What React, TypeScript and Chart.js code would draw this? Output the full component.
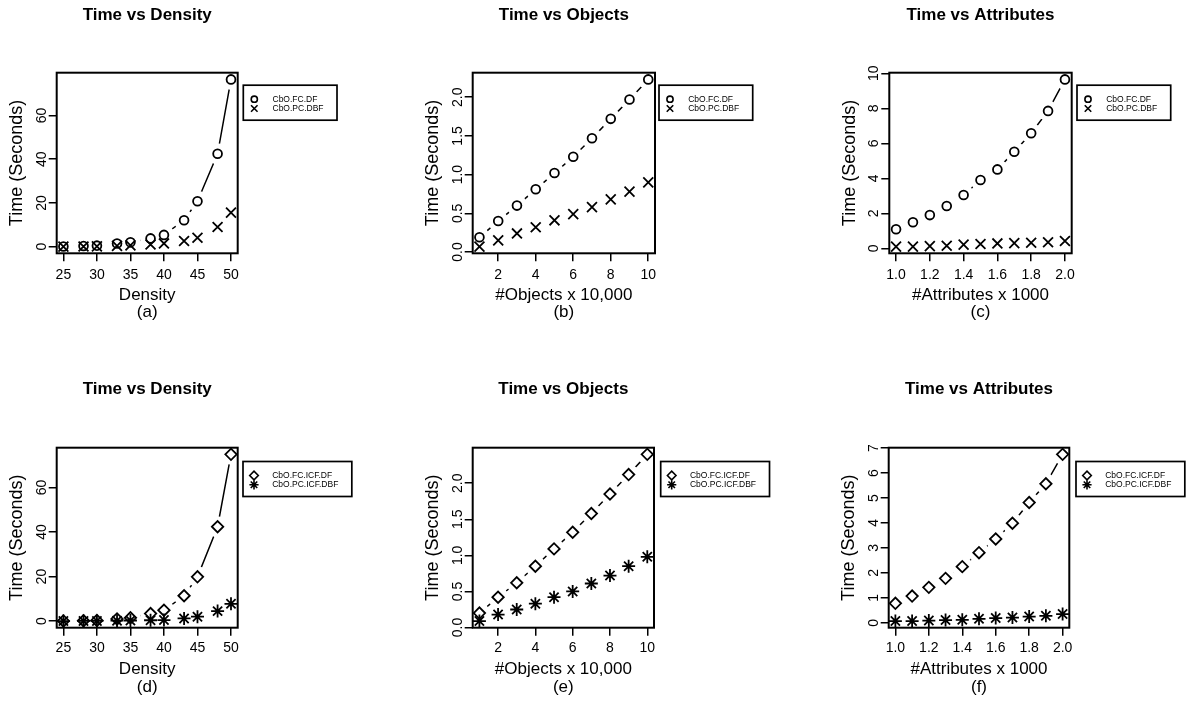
import React, { useEffect, useRef } from 'react';
import { Chart, registerables } from 'chart.js';
import { drawPoint } from 'chart.js/helpers';

Chart.register(...registerables);

const FONT = "'Liberation Sans', Arial, Helvetica, sans-serif";

// ---------- data ----------
const densityX = [25, 28, 30, 33, 35, 38, 40, 43, 45, 48, 50];
const objectsX = [1, 2, 3, 4, 5, 6, 7, 8, 9, 10];
const attributesX = [1.0, 1.1, 1.2, 1.3, 1.4, 1.5, 1.6, 1.7, 1.8, 1.9, 2.0];

const densityXTicks = [25, 30, 35, 40, 45, 50];
const objectsXTicks = [2, 4, 6, 8, 10];
const attributesXTicks = [1.0, 1.2, 1.4, 1.6, 1.8, 2.0];

const densityYTicks = [0, 20, 40, 60];
const objectsYTicks = [0, 0.5, 1.0, 1.5, 2.0];
const attributesYTicksC = [0, 2, 4, 6, 8, 10];
const attributesYTicksF = [0, 1, 2, 3, 4, 5, 6, 7];

// (a) Time vs Density
const aFC = [0.1, 0.3, 0.5, 1.5, 2.0, 3.8, 5.4, 12.1, 20.8, 42.5, 76.5];
const aPC = [0.05, 0.1, 0.15, 0.4, 0.6, 1.0, 1.5, 2.6, 4.1, 9.0, 15.6];
// (b) Time vs Objects
const bFC = [0.19, 0.4, 0.6, 0.81, 1.02, 1.23, 1.47, 1.72, 1.97, 2.23];
const bPC = [0.07, 0.15, 0.24, 0.32, 0.41, 0.49, 0.58, 0.68, 0.78, 0.9];
// (c) Time vs Attributes
const cFC = [1.09, 1.49, 1.9, 2.42, 3.05, 3.9, 4.51, 5.52, 6.57, 7.85, 9.65];
const cPC = [0.1, 0.1, 0.13, 0.15, 0.21, 0.25, 0.28, 0.3, 0.32, 0.35, 0.42];
// (d) Time vs Density (ICF)
const dFC = [0.1, 0.2, 0.3, 1.0, 1.5, 3.4, 4.9, 11.4, 19.9, 42.4, 74.9];
const dPC = [0.05, 0.08, 0.1, 0.2, 0.3, 0.4, 0.5, 1.2, 2.0, 4.5, 7.8];
// (e) Time vs Objects (ICF)
const eFC = [0.2, 0.42, 0.62, 0.85, 1.09, 1.32, 1.58, 1.85, 2.12, 2.4];
const ePC = [0.09, 0.18, 0.25, 0.33, 0.42, 0.5, 0.61, 0.72, 0.85, 0.98];
// (f) Time vs Attributes (ICF)
const fFC = [0.78, 1.07, 1.42, 1.78, 2.25, 2.81, 3.36, 3.99, 4.82, 5.57, 6.75];
const fPC = [0.07, 0.07, 0.09, 0.11, 0.12, 0.16, 0.19, 0.21, 0.25, 0.28, 0.35];

const namesTop = ['CbO.FC.DF', 'CbO.PC.DBF'];
const namesBottom = ['CbO.FC.ICF.DF', 'CbO.PC.ICF.DBF'];
const panelTitles = ['Time vs Density', 'Time vs Objects', 'Time vs Attributes'];
const xAxisLabels = ['Density', '#Objects x 10,000', '#Attributes x 1000'];
const subLabels = ['(a)', '(b)', '(c)', '(d)', '(e)', '(f)'];
const yAxisLabel = 'Time (Seconds)';

type Marker = { style: string; r: number; lr: number };
const markersTop: Marker[] = [
  { style: 'circle', r: 4.4, lr: 3.1 },
  { style: 'crossRot', r: 7, lr: 4.6 },
];
const markersBottom: Marker[] = [
  { style: 'rectRot', r: 5.7, lr: 4.3 },
  { style: 'star', r: 6.5, lr: 4.6 },
];

const panels = [
  { title: panelTitles[0], xLabel: xAxisLabels[0], sub: subLabels[0], x: densityX, fc: aFC, pc: aPC, xTicks: densityXTicks, yTicks: densityYTicks, xDec: 0, yDec: 0, names: namesTop, marks: markersTop },
  { title: panelTitles[1], xLabel: xAxisLabels[1], sub: subLabels[1], x: objectsX, fc: bFC, pc: bPC, xTicks: objectsXTicks, yTicks: objectsYTicks, xDec: 0, yDec: 1, names: namesTop, marks: markersTop },
  { title: panelTitles[2], xLabel: xAxisLabels[2], sub: subLabels[2], x: attributesX, fc: cFC, pc: cPC, xTicks: attributesXTicks, yTicks: attributesYTicksC, xDec: 1, yDec: 0, names: namesTop, marks: markersTop },
  { title: panelTitles[0], xLabel: xAxisLabels[0], sub: subLabels[3], x: densityX, fc: dFC, pc: dPC, xTicks: densityXTicks, yTicks: densityYTicks, xDec: 0, yDec: 0, names: namesBottom, marks: markersBottom },
  { title: panelTitles[1], xLabel: xAxisLabels[1], sub: subLabels[4], x: objectsX, fc: eFC, pc: ePC, xTicks: objectsXTicks, yTicks: objectsYTicks, xDec: 0, yDec: 1, names: namesBottom, marks: markersBottom },
  { title: panelTitles[2], xLabel: xAxisLabels[2], sub: subLabels[5], x: attributesX, fc: fFC, pc: fPC, xTicks: attributesXTicks, yTicks: attributesYTicksF, xDec: 1, yDec: 0, names: namesBottom, marks: markersBottom },
];

// ---------- layout (page pixels) ----------
const ROWS = [
  { cy: 0, ch: 340, T: 72.7, B: 253.3, titleBase: 21, tickBase: 280, subBase: 318.7, legDy: 12.5 },
  { cy: 374, ch: 328, T: 447.7, B: 627.7, titleBase: 395, tickBase: 653.3, subBase: 693, legDy: 13.8 },
];
const COLS = [
  { cx: 0, cw: 390 },
  { cx: 390, cw: 390 },
  { cx: 780, cw: 413 },
];
const BOX_X = [
  [56.7, 237.7], [472.7, 655], [889.3, 1071.7],
  [56.7, 237.7], [472.7, 654], [888.7, 1069.3],
];
const LEG_DX = [5.6, 4, 5.3, 5.3, 6.7, 6.7];

const MID = 0.3465; // canvas 'middle' baseline offset (em)
const TICK = 8;
const Y_W = 52;
const Y_TITLE_GAP = 39.5;
const Y_LABEL_GAP = 15;
const GAP = 10.5;
const TICK_FONT = 14;
const AXIS_FONT = 17;
const YTITLE_FONT = 18;
const MAIN_FONT = 17;
const LEG_FONT = 8.5;

function Panel({ idx }: { idx: number }) {
  const ref = useRef<HTMLCanvasElement>(null);
  const p = panels[idx];
  const row = ROWS[Math.floor(idx / 3)];
  const col = COLS[idx % 3];

  useEffect(() => {
    const canvas = ref.current!;
    const { cx, cw } = col;
    const { cy, ch } = row;
    const L = BOX_X[idx][0] - cx;
    const R = BOX_X[idx][1] - cx;
    const T = row.T - cy;
    const B = row.B - cy;

    const mainLH = MAIN_FONT * 1.2;
    const tTop = row.titleBase - cy - MID * MAIN_FONT - mainLH / 2;
    const tBot = T - tTop - mainLH;
    const axisLH = AXIS_FONT * 1.04;
    const scaleBottom = row.subBase - cy - MID * AXIS_FONT + axisLH / 2;
    const xH = scaleBottom - B;
    const padBottom = ch - scaleBottom;
    const xTickPad = row.tickBase - cy - MID * TICK_FONT - B - TICK - (TICK_FONT * 1.2) / 2;

    const mctx = document.createElement('canvas').getContext('2d')!;
    mctx.font = `${TICK_FONT}px ${FONT}`;
    const widest = Math.max(...p.yTicks.map((v) => mctx.measureText(v.toFixed(p.yDec)).width));
    const yTickPad = Y_LABEL_GAP - TICK - widest / 2;

    const xmin = Math.min(...p.x);
    const xmax = Math.max(...p.x);
    const xr = xmax - xmin;
    const all = [...p.fc, ...p.pc];
    const ymin = Math.min(...all);
    const ymax = Math.max(...all);
    const yr = ymax - ymin;

    const fcPts = p.x.map((x, i) => ({ x, y: p.fc[i] }));
    const pcPts = p.x.map((x, i) => ({ x, y: p.pc[i] }));

    const boxPlugin = {
      id: 'rbox',
      afterDatasetsDraw(chart: any) {
        const { ctx, chartArea } = chart;
        ctx.save();
        ctx.lineWidth = 2;
        ctx.strokeStyle = '#000';
        ctx.strokeRect(chartArea.left, chartArea.top, chartArea.right - chartArea.left, chartArea.bottom - chartArea.top);
        ctx.restore();
      },
    };

    const legendPlugin = {
      id: 'rlegend',
      afterDraw(chart: any) {
        const { ctx, chartArea } = chart;
        ctx.save();
        ctx.font = `${LEG_FONT}px ${FONT}`;
        const tw = Math.max(...p.names.map((n) => ctx.measureText(n).width));
        const left = chartArea.right + LEG_DX[idx];
        const top = chartArea.top + row.legDy;
        const w = 29.2 + tw + 13.5;
        const h = 35;
        ctx.fillStyle = '#fff';
        ctx.fillRect(left, top, w, h);
        ctx.lineWidth = 1.7;
        ctx.strokeStyle = '#000';
        ctx.strokeRect(left, top, w, h);
        p.names.forEach((name, i) => {
          const yy = top + 14 + i * 9.3;
          ctx.strokeStyle = '#000';
          ctx.fillStyle = 'rgba(0,0,0,0)';
          ctx.lineWidth = 1.6;
          drawPoint(ctx, { pointStyle: p.marks[i].style as any, rotation: 0, radius: p.marks[i].lr, borderWidth: 1.6 } as any, left + 11, yy);
          ctx.fillStyle = '#000';
          ctx.textAlign = 'left';
          ctx.textBaseline = 'middle';
          ctx.fillText(name, left + 29.2, yy);
        });
        ctx.restore();
      },
    };

    const chart = new Chart(canvas, {
      type: 'scatter',
      data: {
        datasets: [
          {
            label: p.names[0],
            data: fcPts,
            showLine: false,
            pointStyle: p.marks[0].style as any,
            pointRadius: p.marks[0].r,
            pointBorderWidth: 1.8,
            pointBorderColor: '#000',
            pointBackgroundColor: 'rgba(0,0,0,0)',
            order: 0,
          },
          {
            label: p.names[1],
            data: pcPts,
            showLine: false,
            pointStyle: p.marks[1].style as any,
            pointRadius: p.marks[1].r,
            pointBorderWidth: 1.8,
            pointBorderColor: '#000',
            pointBackgroundColor: 'rgba(0,0,0,0)',
            order: 0,
          },
          {
            label: 'gap',
            data: fcPts,
            showLine: false,
            pointStyle: 'circle',
            pointRadius: GAP,
            pointBorderWidth: 0,
            pointBackgroundColor: '#ffffff',
            pointBorderColor: 'rgba(0,0,0,0)',
            order: 1,
          },
          {
            label: 'line',
            data: fcPts,
            showLine: true,
            borderColor: '#000',
            borderWidth: 1.5,
            pointRadius: 0,
            tension: 0,
            order: 2,
          },
        ] as any,
      },
      options: {
        animation: false,
        responsive: false,
        maintainAspectRatio: false,
        events: [],
        layout: { padding: { left: L - Y_W, right: cw - R, top: 0, bottom: padBottom } },
        plugins: {
          legend: { display: false },
          tooltip: { enabled: false },
          title: {
            display: true,
            text: p.title,
            fullSize: false,
            color: '#000',
            font: { family: FONT, size: MAIN_FONT, weight: 'bold', lineHeight: 1.2 },
            padding: { top: tTop, bottom: tBot },
          },
        },
        scales: {
          x: {
            type: 'linear',
            position: 'bottom',
            bounds: 'data',
            min: xmin - 0.04 * xr,
            max: xmax + 0.04 * xr,
            afterBuildTicks: (s: any) => {
              s.ticks = p.xTicks.map((v) => ({ value: v }));
            },
            afterFit: (s: any) => {
              s.height = xH;
            },
            grid: { display: true, drawOnChartArea: false, drawTicks: true, tickLength: TICK, color: '#000', lineWidth: 1.5 },
            border: { display: false },
            ticks: {
              autoSkip: false,
              maxRotation: 0,
              minRotation: 0,
              padding: xTickPad,
              color: '#000',
              font: { family: FONT, size: TICK_FONT, lineHeight: 1.2 },
              callback: (v: any) => Number(v).toFixed(p.xDec),
            },
            title: {
              display: true,
              text: [p.xLabel, p.sub],
              color: '#000',
              font: { family: FONT, size: AXIS_FONT, lineHeight: 1.04 },
              padding: { top: 0, bottom: 0 },
            },
          },
          y: {
            type: 'linear',
            position: 'left',
            bounds: 'data',
            min: ymin - 0.04 * yr,
            max: ymax + 0.04 * yr,
            afterBuildTicks: (s: any) => {
              s.ticks = p.yTicks.map((v) => ({ value: v }));
            },
            afterFit: (s: any) => {
              s.width = Y_W;
            },
            grid: { display: true, drawOnChartArea: false, drawTicks: true, tickLength: TICK, color: '#000', lineWidth: 1.5 },
            border: { display: false },
            ticks: {
              autoSkip: false,
              minRotation: 90,
              maxRotation: 90,
              crossAlign: 'center',
              padding: yTickPad,
              color: '#000',
              font: { family: FONT, size: TICK_FONT, lineHeight: 1.2 },
              callback: (v: any) => Number(v).toFixed(p.yDec),
            },
            title: {
              display: true,
              text: yAxisLabel,
              color: '#000',
              font: { family: FONT, size: YTITLE_FONT, lineHeight: 1.2 },
              padding: { top: Y_W - Y_TITLE_GAP - (YTITLE_FONT * 1.2) / 2, bottom: 0 },
            },
          },
        },
      } as any,
      plugins: [boxPlugin, legendPlugin],
    });
    return () => chart.destroy();
  }, []);

  return (
    <canvas
      ref={ref}
      width={col.cw}
      height={row.ch}
      style={{ position: 'absolute', left: col.cx, top: row.cy, width: col.cw, height: row.ch }}
    />
  );
}

export default function App() {
  return (
    <div style={{ position: 'absolute', left: 0, top: 0, width: 1193, height: 702, background: '#fff', overflow: 'hidden' }}>
      {panels.map((_, i) => (
        <Panel key={i} idx={i} />
      ))}
    </div>
  );
}
